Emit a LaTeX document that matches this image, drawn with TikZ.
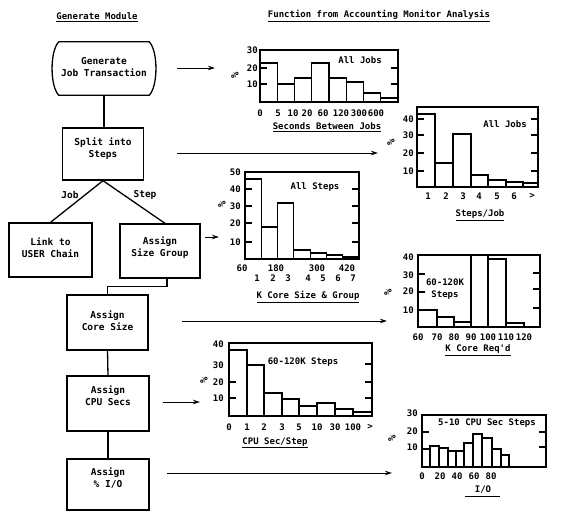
\documentclass[tikz,border=0pt]{standalone}
\usepackage{fontspec}
\setmonofont{DejaVu Sans Mono}
\usetikzlibrary{arrows.meta}
\begin{document}
\begin{tikzpicture}[x=1pt,y=-1pt,
 txt/.style={font=\ttfamily\bfseries\fontsize{9}{10}\selectfont, inner sep=0pt},
 flow/.style={font=\ttfamily\bfseries\fontsize{9.5}{12}\selectfont, align=center, inner sep=0pt},
 box/.style={draw, line width=1.3pt, inner sep=0pt},
 frm/.style={line width=1.3pt},
 bar/.style={line width=1.1pt},
 tk/.style={line width=1.1pt},
 con/.style={line width=1.3pt},
 arr/.style={line width=1pt, -{Stealth[length=7pt,width=4.5pt]}},
 pct/.style={font=\ttfamily\bfseries\fontsize{10.5}{11}\selectfont, inner sep=0pt, rotate=90},
 ylab/.style={txt, anchor=east},
]
\useasboundingbox (0,0) rectangle (564,512);
\fill[white] (0,0) rectangle (564,512);

% headers
\node[txt] (h1) at (97,17) {\underline{Generate Module}};
\node[txt] (h2) at (379,16) {\underline{Function from Accounting Monitor Analysis}};

% ---------------- flowchart ----------------
\node[minimum width=90pt, minimum height=53pt, inner sep=0pt] (gen) at (104,68.5) {};
\draw[con] (gen.north west) -- (gen.north east)
   .. controls +(9,9) and +(9,-9) .. (gen.south east)
   -- (gen.south west)
   .. controls +(-9,-9) and +(-9,9) .. (gen.north west);
\node[flow] (gent) at ([yshift=1.5pt]gen.center) {Generate\\Job Transaction};

\node[box, minimum width=81pt, minimum height=52pt] (split) at (103,154) {};
\node[flow] (splitt) at ([yshift=5pt]split.center) {Split into\\Steps};

\node[box, minimum width=83pt, minimum height=54pt] (link) at (50.5,250) {};
\node[flow] (linkt) at ([yshift=2.5pt]link.center) {Link to\\USER Chain};

\node[box, minimum width=80pt, minimum height=54pt] (size) at (160,251) {};
\node[flow] (sizet) at ([yshift=3.5pt]size.center) {Assign\\Size Group};

\node[box, minimum width=81pt, minimum height=55pt] (core) at (107.5,322.5) {};
\node[flow] (coret) at ([yshift=1.5pt]core.center) {Assign\\Core Size};

\node[box, minimum width=82pt, minimum height=55pt] (cpu) at (108,403.5) {};
\node[flow] (cput) at ([yshift=7.5pt]cpu.center) {Assign\\CPU Secs};

\node[box, minimum width=82pt, minimum height=51pt] (io) at (108,484.5) {};
\node[flow] (iot) at ([yshift=6.5pt]io.center) {Assign\\\% I/O};

\draw[con] (gen.south) -- (gen.south |- split.north);
\draw[con] (split.south) -- (link.north);
\draw[con] (split.south) -- ([xshift=5pt]size.north);
\node[flow] (jobl) at (70,195) {Job};
\node[flow] (stepl) at (145,195) {Step};
\draw[con] ([xshift=7pt]size.south) -- ++(0,8) -| (core.north);
\draw[con] (core.south) -- (cpu.north);
\draw[con] (cpu.south) -- (io.north);

% arrows to histograms
\coordinate (a1s) at (177,68);  \coordinate (a1e) at (215,68);
\coordinate (a2s) at (177,153); \coordinate (a2e) at (378,153);
\coordinate (a3s) at (205,237); \coordinate (a3e) at (219,237);
\coordinate (a4s) at (182,321); \coordinate (a4e) at (387,321);
\coordinate (a5s) at (163,402); \coordinate (a5e) at (200,402);
\coordinate (a6s) at (167,473); \coordinate (a6e) at (392,473);
\draw[arr] (a1s) -- (a1e);
\draw[arr] (a2s) -- (a2e);
\draw[arr] (a3s) -- (a3e);
\draw[arr] (a4s) -- (a4e);
\draw[arr] (a5s) -- (a5e);
\draw[arr] (a6s) -- (a6e);

% ---------------- H1: seconds between jobs ----------------
\foreach \a/\b/\t in {260/277.25/63, 277.25/294.5/84, 294.5/311.75/78, 311.75/329/63,
   329/346.25/78, 346.25/363.5/82, 363.5/380.75/93, 380.75/398/98}
  \draw[bar] (\a,102) rectangle (\b,\t);
\draw[frm] (260,50) rectangle (398,102);
\foreach \y in {68,84} {\draw[tk] (260,\y) -- (267,\y); \draw[tk] (391,\y) -- (398,\y);}
\node[ylab] (h1y30) at (258,50) {30};
\node[ylab] (h1y20) at (258,68) {20};
\node[ylab] (h1y10) at (258,84) {10};
\foreach \x/\l [count=\i] in {260/0, 278/5, 293/10, 307/20, 323/60, 341/120, 359/300, 376/600}
  \node[txt] (h1x\i) at (\x,113) {\l};
\node[txt] (h1t) at (360,60) {All Jobs};
\node[txt] (h1a) at (327,127) {\underline{Seconds Between Jobs}};
\node[pct] (h1p) at (235,75) {\%};

% ---------------- H2: steps/job ----------------
\foreach \a/\b/\t in {417/435/114, 435/453/163, 453/471/134, 471/488/175,
   488/506/180, 506/523/182, 523/538/183}
  \draw[bar] (\a,187) rectangle (\b,\t);
\draw[frm] (417,107) rectangle (538,187);
\foreach \y in {119,135,153,171} {\draw[tk] (417,\y) -- (424,\y); \draw[tk] (531,\y) -- (538,\y);}
\node[ylab] (h2y40) at (414,119) {40};
\node[ylab] (h2y30) at (414,135) {30};
\node[ylab] (h2y20) at (414,153) {20};
\node[ylab] (h2y10) at (414,171) {10};
\foreach \x/\l [count=\i] in {428/1, 446/2, 463/3, 479/4, 497/5, 514/6, 532/>}
  \node[txt] (h2x\i) at (\x,196) {\l};
\node[txt] (h2t) at (505,124) {All Jobs};
\node[txt] (h2a) at (480,215) {\underline{Steps/Job}};
\node[pct] (h2p) at (391,142) {\%};

% ---------------- H3: K core size & group ----------------
\foreach \a/\b/\t in {245/261.3/179, 261.3/277.6/227, 277.6/293.9/203, 293.9/310.1/250,
   310.1/326.4/253, 326.4/342.7/255, 342.7/359/257}
  \draw[bar] (\a,259) rectangle (\b,\t);
\draw[frm] (245,172) rectangle (359,259);
\foreach \y in {189,206,223,242} {\draw[tk] (245,\y) -- (252,\y); \draw[tk] (352,\y) -- (359,\y);}
\node[ylab] (h3y50) at (241,172) {50};
\node[ylab] (h3y40) at (241,189) {40};
\node[ylab] (h3y30) at (241,206) {30};
\node[ylab] (h3y20) at (241,223) {20};
\node[ylab] (h3y10) at (241,242) {10};
\foreach \x/\l [count=\i] in {242/60, 276/180, 317/300, 347/420}
  \node[txt] (h3x\i) at (\x,268) {\l};
\foreach \x/\l [count=\i] in {257/1, 273/2, 288/3, 308/4, 323/5, 338/6, 353/7}
  \node[txt] (h3g\i) at (\x,278) {\l};
\node[txt] (h3t) at (315,187) {All Steps};
\node[txt] (h3a) at (308,297) {\underline{K Core Size \& Group}};
\node[pct] (h3p) at (222,204) {\%};

% ---------------- H4: K core req'd ----------------
\foreach \a/\b/\t in {418/437/310, 437/454/317, 454/471/322, 471/488/255,
   488/506/259, 506/524/323}
  \draw[bar] (\a,327) rectangle (\b,\t);
\draw[frm] (418,255) rectangle (540,327);
\foreach \y in {274,292} \draw[tk] (418,\y) -- (425,\y);
\foreach \y in {273,289,308} \draw[tk] (533,\y) -- (540,\y);
\node[ylab] (h4y40) at (414,257) {40};
\node[ylab] (h4y30) at (414,275) {30};
\node[ylab] (h4y20) at (414,291) {20};
\node[ylab] (h4y10) at (414,310) {10};
\foreach \x/\l [count=\i] in {418/60, 437/70, 454/80, 471/90, 488/100, 506/110, 524/120}
  \node[txt] (h4x\i) at (\x,337) {\l};
\node[txt, align=center, font=\ttfamily\bfseries\fontsize{9}{12}\selectfont] (h4t) at (445,289) {60-120K\\Steps};
\node[txt] (h4a) at (478,350) {\underline{K Core Req'd}};
\node[pct] (h4p) at (388,292) {\%};

% ---------------- H5: CPU sec/step ----------------
\foreach \a/\b/\t in {229/247/350, 247/264/365, 264/282/393, 282/299/399,
   299/317/406, 317/335/403, 335/353/409, 353/372/412}
  \draw[bar] (\a,416) rectangle (\b,\t);
\draw[frm] (229,343) rectangle (372,416);
\foreach \y in {382,398} \draw[tk] (229,\y) -- (236,\y);
\foreach \y in {364,382,398} \draw[tk] (365,\y) -- (372,\y);
\node[ylab] (h5y40) at (224,344) {40};
\node[ylab] (h5y30) at (224,365) {30};
\node[ylab] (h5y20) at (224,382) {20};
\node[ylab] (h5y10) at (224,398) {10};
\foreach \x/\l [count=\i] in {229/0, 247/1, 264/2, 282/3, 299/5, 317/10, 335/30, 353/100, 370/>}
  \node[txt] (h5x\i) at (\x,427) {\l};
\node[txt] (h5t) at (303,362) {60-120K Steps};
\node[txt] (h5a) at (275,443) {\underline{CPU Sec/Step}};
\node[pct] (h5p) at (204,380) {\%};

% ---------------- H6: I/O ----------------
\foreach \a/\b/\t in {422/430/449, 430/439/446, 439/448/448, 448/456/451, 456/464/451,
   464/473/443, 473/482/434, 482/492/438, 492/501/449, 501/509/455}
  \draw[bar] (\a,467) rectangle (\b,\t);
\draw[frm] (422,415) rectangle (546,467);
\draw[tk] (422,432) -- (429,432);
\foreach \y in {432,447} \draw[tk] (539,\y) -- (546,\y);
\node[ylab] (h6y30) at (418,413) {30};
\node[ylab] (h6y20) at (418,431) {20};
\node[ylab] (h6y10) at (418,447) {10};
\foreach \x/\l [count=\i] in {422/0, 440/20, 457/40, 474/60, 491/80}
  \node[txt] (h6x\i) at (\x,476) {\l};
\node[txt] (h6t) at (487,423) {5-10 CPU Sec Steps};
\node[txt] (h6a) at (483,490) {I/O};
\draw[line width=0.7pt] (465,496) -- (500,496);
\node[pct] (h6p) at (392,438) {\%};
\end{tikzpicture}
\end{document}
